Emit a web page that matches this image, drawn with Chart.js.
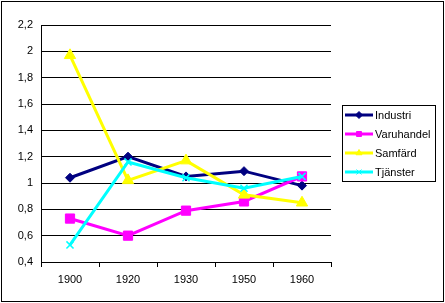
<!DOCTYPE html>
<html lang="sv">
<head>
  <meta charset="UTF-8">
  <title>Sektorer 1900-1960</title>
  <script src="https://cdn.jsdelivr.net/npm/chart.js"></script>
  <style>
    body { margin: 0; background: #fff; }
    #wrap { width: 445px; height: 303px; }
  </style>
</head>
<body>
<div id="wrap"><canvas id="chart" width="445" height="303"></canvas></div>
<script>
const years = ['1900', '1920', '1930', '1950', '1960'];
const industri = [1.04, 1.20, 1.05, 1.09, 0.98];
const varuhandel = [0.73, 0.60, 0.79, 0.86, 1.05];
const samfard = [1.97, 1.02, 1.17, 0.91, 0.85];
const tjanster = [0.53, 1.16, 1.04, 0.96, 1.05];

const FONT = 'Liberation Sans, Arial, sans-serif';

function series(label, data, color, style, radius, order) {
  return {
    label: label,
    data: data,
    order: order,
    borderColor: color,
    backgroundColor: color,
    borderWidth: 3,
    pointStyle: style,
    pointRadius: radius,
    pointHoverRadius: radius,
    pointBorderWidth: style === 'crossRot' ? 1.5 : 1,
    tension: 0
  };
}

// legend with a frame, line sample + marker like the original
const boxLegend = {
  id: 'boxLegend',
  afterDraw(chart) {
    const ctx = chart.ctx;
    ctx.save();
    ctx.strokeStyle = '#000';
    ctx.lineWidth = 1;
    ctx.strokeRect(1.5, 1.5, 442, 300);
    ctx.strokeRect(342.5, 105.5, 93, 76);
    ctx.font = '11px ' + FONT;
    ctx.textBaseline = 'middle';
    chart.data.datasets.forEach((ds, i) => {
      const y = 115 + i * 19;
      ctx.strokeStyle = ds.borderColor;
      ctx.lineWidth = 3;
      ctx.beginPath();
      ctx.moveTo(345, y);
      ctx.lineTo(373, y);
      ctx.stroke();
      ctx.fillStyle = ds.borderColor;
      ctx.lineWidth = 1;
      Chart.helpers.drawPoint(ctx, { pointStyle: ds.pointStyle, radius: 3.5, rotation: 0, borderWidth: 1 }, 359, y);
      ctx.fillStyle = '#000';
      ctx.fillText(ds.label, 375, y + 1);
    });
    ctx.restore();
  }
};

new Chart(document.getElementById('chart'), {
  type: 'line',
  data: {
    labels: years,
    datasets: [
      series('Industri', industri, '#000080', 'rectRot', 4.5, 4),
      series('Varuhandel', varuhandel, '#ff00ff', 'rect', 6.5, 3),
      series('Samfärd', samfard, '#ffff00', 'triangle', 6.5, 2),
      series('Tjänster', tjanster, '#00ffff', 'crossRot', 5, 1)
    ]
  },
  options: {
    responsive: false,
    animation: false,
    layout: { padding: { left: 0, right: 114, top: 25, bottom: 0 } },
    plugins: { legend: { display: false }, tooltip: { enabled: false } },
    scales: {
      x: {
        offset: true,
        grid: { offset: true, drawOnChartArea: false, drawTicks: true, tickLength: 5, color: '#000' },
        border: { color: '#000', width: 1 },
        ticks: { color: '#000', font: { family: FONT, size: 11 }, padding: 6 },
        afterFit(scale) { scale.height = 41; }
      },
      y: {
        min: 0.4,
        max: 2.2,
        ticks: {
          stepSize: 0.2,
          color: '#000',
          font: { family: FONT, size: 11 },
          padding: 8,
          callback: v => String(Math.round(v * 10) / 10).replace('.', ',')
        },
        grid: { color: '#000', drawTicks: false },
        border: { color: '#000', width: 1 },
        afterFit(scale) { scale.width = 41; }
      }
    }
  },
  plugins: [boxLegend]
});
</script>
</body>
</html>
